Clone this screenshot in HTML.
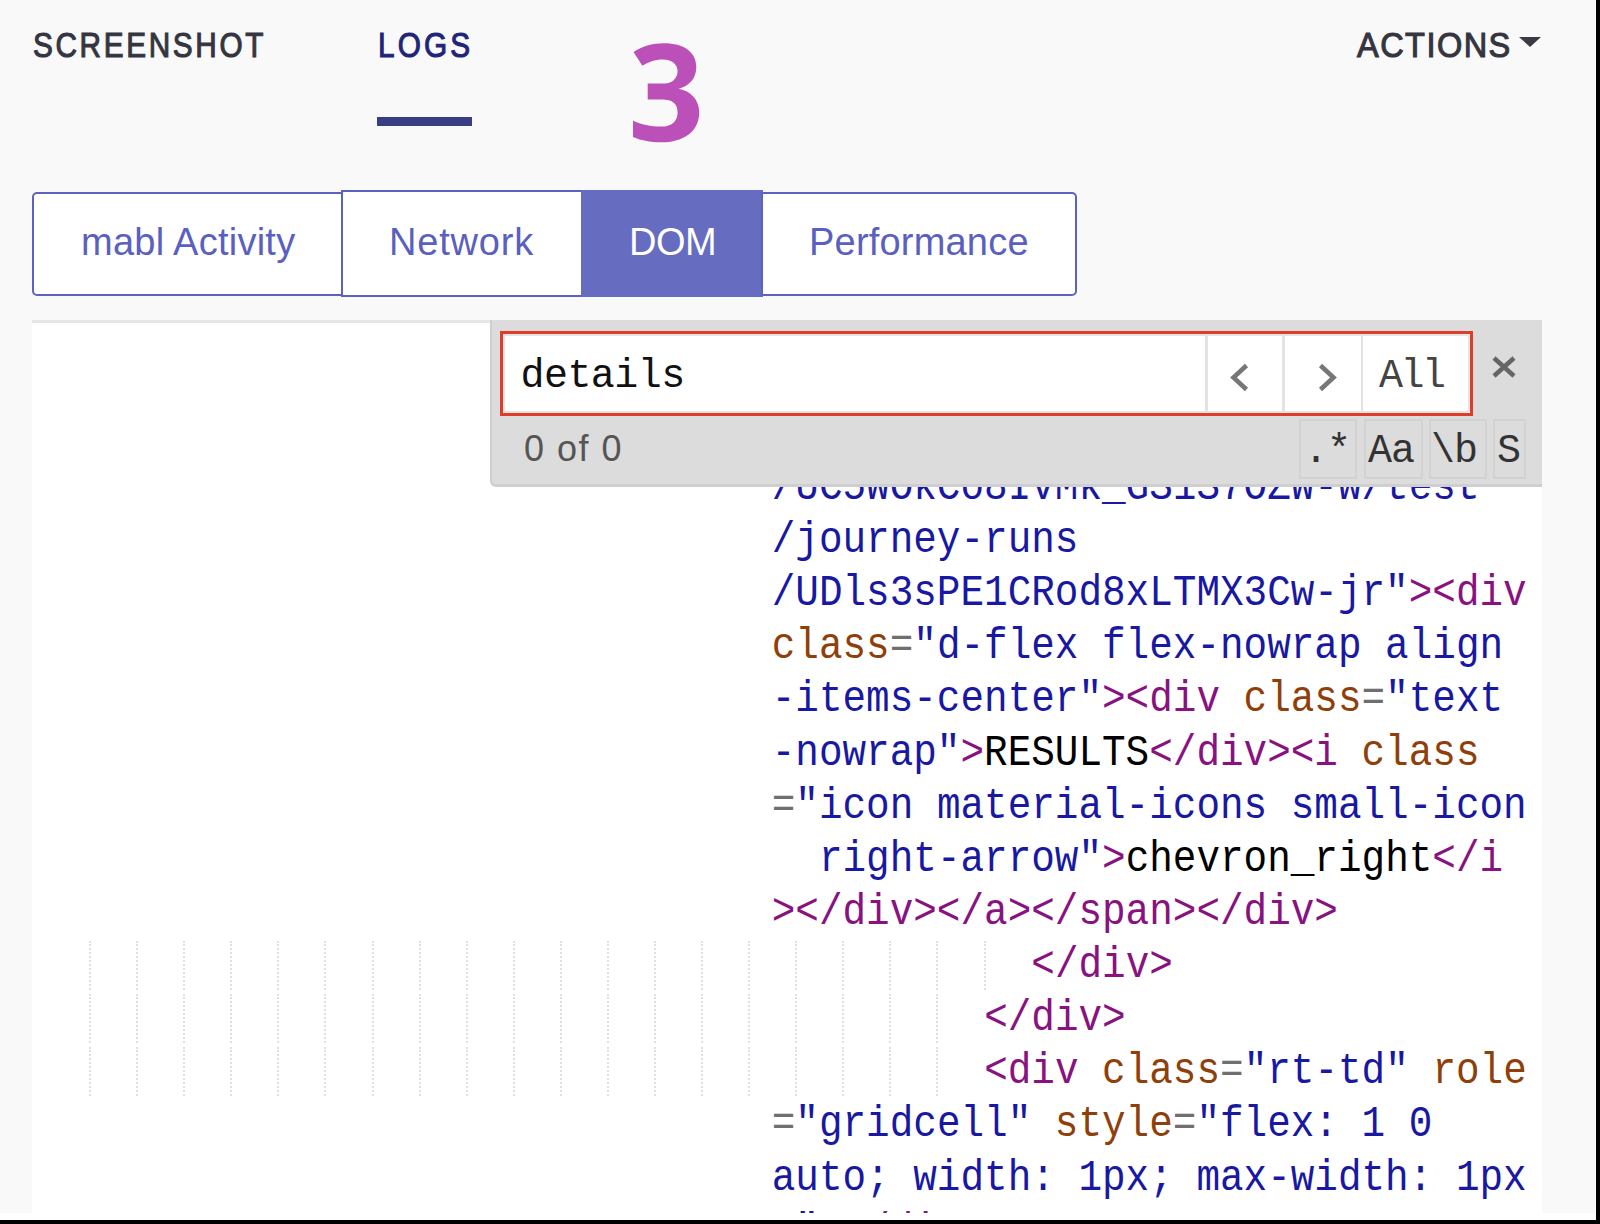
<!DOCTYPE html>
<html><head><meta charset="utf-8">
<style>
html,body{margin:0;padding:0;width:1600px;height:1224px;overflow:hidden;background:#fff;position:relative;}
.abs{position:absolute;}
#bg{left:0;top:0;width:1595px;height:1213px;background:#f9f9fa;}
#blackR{left:1596px;top:0;width:4px;height:1224px;background:#000;}
#blackB{left:0;top:1220px;width:1600px;height:4px;background:#000;}
.sans{font-family:"Liberation Sans",sans-serif;white-space:nowrap;}
.tab{font-size:35px;line-height:1;color:#35353f;-webkit-text-stroke:1.1px currentColor;transform-origin:0 0;}
#shot{left:33px;top:27.3px;transform:scaleX(0.85);letter-spacing:3.1px;}
#logs{left:378px;top:27.3px;color:#1f2577;transform:scaleX(0.85);letter-spacing:3.7px;}
#bar{left:377px;top:117px;width:95px;height:9px;background:#393e82;}
#actions{left:1357px;top:27.3px;transform:scaleX(0.93);letter-spacing:1.55px;}
#caret{left:1519px;top:37px;width:0;height:0;border-left:11.5px solid transparent;border-right:11.5px solid transparent;border-top:10px solid #3b3b45;}
.seg{top:191px;height:101px;border:2.5px solid #5c63bf;background:#fff;box-sizing:content-box;}
.segt{font-size:38px;color:#5a60c0;line-height:1;}
#editor{left:32px;top:320px;width:1510px;height:893px;background:#fff;border-top:3px solid #e6e6e6;box-sizing:border-box;}
#panel{left:490px;top:320px;width:1052px;height:167px;background:#dcdcdc;border-left:2px solid #cfcfcf;border-bottom:3px solid #cfcfcf;border-bottom-left-radius:6px;box-sizing:border-box;}
.mono{font-family:"Liberation Mono",monospace;white-space:pre;}
.code{font-size:39.327px;line-height:53.12px;transform:scaleY(1.12);transform-origin:0 37px;}
.t{color:#881280}.a{color:#8f400a}.v{color:#1818a2}.e{color:#6f6f6f}.x{color:#000}
.tog{top:419px;height:59.5px;box-sizing:border-box;border:2px solid #d2d2d2;}
.togt{top:427.5px;font-size:40px;letter-spacing:-1px;line-height:48px;color:#333;}
.guide{width:0;border-left:2px dotted #e0e0e0;}
</style></head>
<body>
<div id="bg" class="abs"></div>

<!-- top tabs -->
<div id="shot" class="abs sans tab">SCREENSHOT</div>
<div id="logs" class="abs sans tab">LOGS</div>
<div id="bar" class="abs"></div>
<svg class="abs" style="left:610px;top:30px;" width="120" height="120" viewBox="0 0 120 120"><path fill="#bb50b8" d="M23.5,22.1 C32,16 42,13.2 53.9,13.2 C74,13.2 86.3,22 86.3,37 C86.3,49 79,56 68.6,58.8 C81,61 89.2,70 89.2,82.4 C89.2,101 74,112.3 51,112.3 C40,112.3 30,110 23,106.9 L23,90.7 C31,94.5 41,96.6 51,96.6 C63,96.6 67.6,90 67.6,82.4 C67.6,73 61,69.6 53,69.6 L37.7,69.6 L37.7,53.4 L54.9,53.4 C62,53.4 67.6,48 67.6,41.2 C67.6,33.5 61,29.4 52.9,29.4 C45,29.4 38,32 32.4,35.8 Z"/></svg>
<div id="actions" class="abs sans tab">ACTIONS</div>
<div id="caret" class="abs"></div>

<!-- segmented control -->
<div class="abs seg" style="left:32px;width:307px;border-radius:5px 0 0 5px;top:191.5px;height:100px;"></div>
<div class="abs seg" style="left:341px;width:238px;top:190.3px;height:102.4px;"></div>
<div class="abs seg" style="left:581px;width:178px;top:190.3px;height:102.4px;background:#666cc0;border-color:#666cc0;"></div>
<div class="abs seg" style="left:761px;width:312px;border-radius:0 5px 5px 0;top:191.5px;height:100px;"></div>
<div class="abs sans segt" style="left:81px;top:223px;letter-spacing:0.25px;">mabl Activity</div>
<div class="abs sans segt" style="left:389px;top:223px;letter-spacing:0.8px;">Network</div>
<div class="abs sans segt" style="left:629px;top:223px;color:#fff;letter-spacing:-0.5px;">DOM</div>
<div class="abs sans segt" style="left:809px;top:223px;letter-spacing:0.2px;">Performance</div>

<!-- editor -->
<div id="editor" class="abs"></div>
<!--CODE-->
<div id="clip" class="abs" style="left:0;top:0;width:1600px;height:1224px;clip-path:inset(323px 58px 11px 32px);">
<div id="guides">
<div class="abs guide" style="left:89.0px;top:940.5px;height:49.5px;"></div>
<div class="abs guide" style="left:136.1px;top:940.5px;height:49.5px;"></div>
<div class="abs guide" style="left:183.2px;top:940.5px;height:49.5px;"></div>
<div class="abs guide" style="left:230.2px;top:940.5px;height:49.5px;"></div>
<div class="abs guide" style="left:277.3px;top:940.5px;height:49.5px;"></div>
<div class="abs guide" style="left:324.4px;top:940.5px;height:49.5px;"></div>
<div class="abs guide" style="left:371.5px;top:940.5px;height:49.5px;"></div>
<div class="abs guide" style="left:418.6px;top:940.5px;height:49.5px;"></div>
<div class="abs guide" style="left:465.6px;top:940.5px;height:49.5px;"></div>
<div class="abs guide" style="left:512.7px;top:940.5px;height:49.5px;"></div>
<div class="abs guide" style="left:559.8px;top:940.5px;height:49.5px;"></div>
<div class="abs guide" style="left:606.9px;top:940.5px;height:49.5px;"></div>
<div class="abs guide" style="left:654.0px;top:940.5px;height:49.5px;"></div>
<div class="abs guide" style="left:701.0px;top:940.5px;height:49.5px;"></div>
<div class="abs guide" style="left:748.1px;top:940.5px;height:49.5px;"></div>
<div class="abs guide" style="left:795.2px;top:940.5px;height:49.5px;"></div>
<div class="abs guide" style="left:842.3px;top:940.5px;height:49.5px;"></div>
<div class="abs guide" style="left:889.4px;top:940.5px;height:49.5px;"></div>
<div class="abs guide" style="left:936.4px;top:940.5px;height:49.5px;"></div>
<div class="abs guide" style="left:983.5px;top:940.5px;height:49.5px;"></div>
<div class="abs guide" style="left:89.0px;top:993.6px;height:49.5px;"></div>
<div class="abs guide" style="left:136.1px;top:993.6px;height:49.5px;"></div>
<div class="abs guide" style="left:183.2px;top:993.6px;height:49.5px;"></div>
<div class="abs guide" style="left:230.2px;top:993.6px;height:49.5px;"></div>
<div class="abs guide" style="left:277.3px;top:993.6px;height:49.5px;"></div>
<div class="abs guide" style="left:324.4px;top:993.6px;height:49.5px;"></div>
<div class="abs guide" style="left:371.5px;top:993.6px;height:49.5px;"></div>
<div class="abs guide" style="left:418.6px;top:993.6px;height:49.5px;"></div>
<div class="abs guide" style="left:465.6px;top:993.6px;height:49.5px;"></div>
<div class="abs guide" style="left:512.7px;top:993.6px;height:49.5px;"></div>
<div class="abs guide" style="left:559.8px;top:993.6px;height:49.5px;"></div>
<div class="abs guide" style="left:606.9px;top:993.6px;height:49.5px;"></div>
<div class="abs guide" style="left:654.0px;top:993.6px;height:49.5px;"></div>
<div class="abs guide" style="left:701.0px;top:993.6px;height:49.5px;"></div>
<div class="abs guide" style="left:748.1px;top:993.6px;height:49.5px;"></div>
<div class="abs guide" style="left:795.2px;top:993.6px;height:49.5px;"></div>
<div class="abs guide" style="left:842.3px;top:993.6px;height:49.5px;"></div>
<div class="abs guide" style="left:889.4px;top:993.6px;height:49.5px;"></div>
<div class="abs guide" style="left:936.4px;top:993.6px;height:49.5px;"></div>
<div class="abs guide" style="left:89.0px;top:1046.7px;height:49.5px;"></div>
<div class="abs guide" style="left:136.1px;top:1046.7px;height:49.5px;"></div>
<div class="abs guide" style="left:183.2px;top:1046.7px;height:49.5px;"></div>
<div class="abs guide" style="left:230.2px;top:1046.7px;height:49.5px;"></div>
<div class="abs guide" style="left:277.3px;top:1046.7px;height:49.5px;"></div>
<div class="abs guide" style="left:324.4px;top:1046.7px;height:49.5px;"></div>
<div class="abs guide" style="left:371.5px;top:1046.7px;height:49.5px;"></div>
<div class="abs guide" style="left:418.6px;top:1046.7px;height:49.5px;"></div>
<div class="abs guide" style="left:465.6px;top:1046.7px;height:49.5px;"></div>
<div class="abs guide" style="left:512.7px;top:1046.7px;height:49.5px;"></div>
<div class="abs guide" style="left:559.8px;top:1046.7px;height:49.5px;"></div>
<div class="abs guide" style="left:606.9px;top:1046.7px;height:49.5px;"></div>
<div class="abs guide" style="left:654.0px;top:1046.7px;height:49.5px;"></div>
<div class="abs guide" style="left:701.0px;top:1046.7px;height:49.5px;"></div>
<div class="abs guide" style="left:748.1px;top:1046.7px;height:49.5px;"></div>
<div class="abs guide" style="left:795.2px;top:1046.7px;height:49.5px;"></div>
<div class="abs guide" style="left:842.3px;top:1046.7px;height:49.5px;"></div>
<div class="abs guide" style="left:889.4px;top:1046.7px;height:49.5px;"></div>
<div class="abs guide" style="left:936.4px;top:1046.7px;height:49.5px;"></div>
</div>
<div id="code">
<div class="abs mono code" style="left:771.74px;top:462.00px;"><span class="v">/UC5WOkCo8IvMk_GS1S7OZW-w/test</span></div>
<div class="abs mono code" style="left:771.74px;top:515.12px;"><span class="v">/journey-runs</span></div>
<div class="abs mono code" style="left:771.74px;top:568.24px;"><span class="v">/UDls3sPE1CRod8xLTMX3Cw-jr"</span><span class="t">&gt;&lt;div</span></div>
<div class="abs mono code" style="left:771.74px;top:621.36px;"><span class="a">class</span><span class="e">=</span><span class="v">"d-flex flex-nowrap align</span></div>
<div class="abs mono code" style="left:771.74px;top:674.48px;"><span class="v">-items-center"</span><span class="t">&gt;&lt;div</span><span class="x"> </span><span class="a">class</span><span class="e">=</span><span class="v">"text</span></div>
<div class="abs mono code" style="left:771.74px;top:727.60px;"><span class="v">-nowrap"</span><span class="t">&gt;</span><span class="x">RESULTS</span><span class="t">&lt;/div&gt;&lt;i</span><span class="x"> </span><span class="a">class</span></div>
<div class="abs mono code" style="left:771.74px;top:780.72px;"><span class="e">=</span><span class="v">"icon material-icons small-icon</span></div>
<div class="abs mono code" style="left:771.74px;top:833.84px;"><span class="x">  </span><span class="v">right-arrow"</span><span class="t">&gt;</span><span class="x">chevron_right</span><span class="t">&lt;/i</span></div>
<div class="abs mono code" style="left:771.74px;top:886.96px;"><span class="t">&gt;&lt;/div&gt;&lt;/a&gt;&lt;/span&gt;&lt;/div&gt;</span></div>
<div class="abs mono code" style="left:1031.34px;top:940.08px;"><span class="t">&lt;/div&gt;</span></div>
<div class="abs mono code" style="left:984.14px;top:993.20px;"><span class="t">&lt;/div&gt;</span></div>
<div class="abs mono code" style="left:984.14px;top:1046.32px;"><span class="t">&lt;div</span><span class="x"> </span><span class="a">class</span><span class="e">=</span><span class="v">"rt-td"</span><span class="x"> </span><span class="a">role</span></div>
<div class="abs mono code" style="left:771.74px;top:1099.44px;"><span class="e">=</span><span class="v">"gridcell"</span><span class="x"> </span><span class="a">style</span><span class="e">=</span><span class="v">"flex: 1 0</span></div>
<div class="abs mono code" style="left:771.74px;top:1152.56px;"><span class="v">auto; width: 1px; max-width: 1px</span></div>
<div class="abs mono code" style="left:771.74px;top:1205.68px;"><span class="v">;"</span><span class="t">&gt;&lt;/div&gt;</span></div>
</div>
</div>
<!--/CODE-->

<!-- search panel -->
<div id="panel" class="abs"></div>
<div class="abs" style="left:499.5px;top:330.5px;width:973px;height:85px;box-sizing:border-box;border:3px solid #df3d28;background:#fff;"></div>
<div class="abs" style="left:502.5px;top:333.5px;width:967px;height:79px;box-sizing:border-box;border:2.5px solid #e4e4e4;border-radius:0 4px 4px 0;"></div>
<div class="abs" style="left:1205px;top:334px;width:3px;height:77px;background:#e3e3e3;"></div>
<div class="abs" style="left:1282px;top:334px;width:3px;height:77px;background:#e3e3e3;"></div>
<div class="abs" style="left:1361px;top:334px;width:1.5px;height:77px;background:#e3e3e3;"></div>
<div class="abs mono" style="left:520.5px;top:352.8px;font-size:40px;line-height:48px;letter-spacing:-0.55px;color:#111;">details</div>
<svg class="abs" style="left:1225px;top:358px;" width="30" height="38"><polyline points="21.5,7.5 8.5,19.5 21.5,31.5" fill="none" stroke="#777" stroke-width="4.6"/></svg>
<svg class="abs" style="left:1312px;top:358px;" width="30" height="38"><polyline points="8.5,7.5 21.5,19.5 8.5,31.5" fill="none" stroke="#777" stroke-width="4.6"/></svg>
<div class="abs mono" style="left:1379px;top:353.3px;font-size:40px;line-height:48px;letter-spacing:-2.5px;color:#444;">All</div>
<svg class="abs" style="left:1488px;top:352px;" width="32" height="30"><path d="M6,6 L26,24 M26,6 L6,24" fill="none" stroke="#666" stroke-width="4.5"/></svg>
<div class="abs sans" style="left:524px;top:425px;font-size:36px;line-height:48px;letter-spacing:1.5px;color:#555;">0 of 0</div>
<div class="abs tog" style="left:1298.5px;width:58.5px;"></div>
<div class="abs tog" style="left:1364px;width:58.5px;"></div>
<div class="abs tog" style="left:1428.5px;width:58px;"></div>
<div class="abs tog" style="left:1493px;width:32.5px;"></div>
<div class="abs mono togt" style="left:1304px;">.*</div>
<div class="abs mono togt" style="left:1368px;">Aa</div>
<div class="abs mono togt" style="left:1431px;">\b</div>
<div class="abs mono togt" style="left:1497px;">S</div>

<div id="blackR" class="abs"></div>
<div id="blackB" class="abs"></div>
</body></html>
